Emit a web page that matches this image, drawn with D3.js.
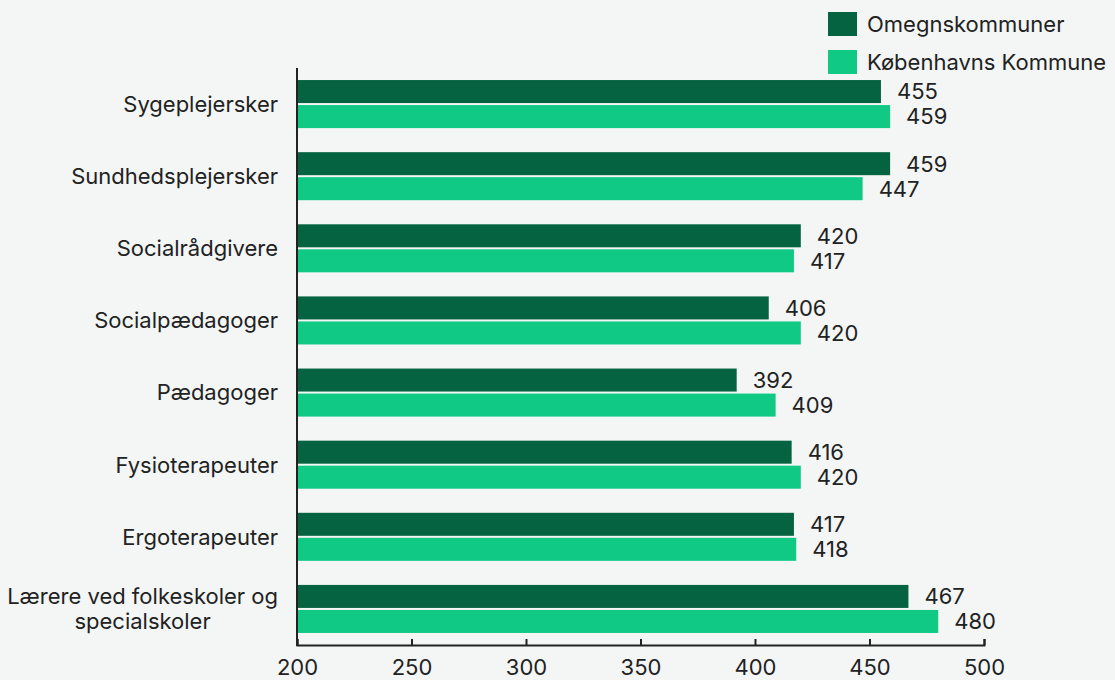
<!DOCTYPE html>
<html>
<head>
<meta charset="utf-8">
<script src="https://cdn.jsdelivr.net/npm/d3@7"></script>
<style>
	body { margin: 0; background: #f3f6f5; }
	svg { display: block; font-family: Inter, "Noto Sans", sans-serif; }
	.axis path, .axis line { stroke: #222; stroke-width: 2; }
</style>
</head>
<body>
<svg id="chart" width="1115" height="680"></svg>
<script>
var categories = [
	"Sygeplejersker",
	"Sundhedsplejersker",
	"Socialrådgivere",
	"Socialpædagoger",
	"Pædagoger",
	"Fysioterapeuter",
	"Ergoterapeuter",
	"Lærere ved folkeskoler og specialskoler"
];
var seriesNames = ["Omegnskommuner", "Københavns Kommune"];
var omegnValues = [455, 459, 420, 406, 392, 416, 417, 467];
var kbhValues = [459, 447, 417, 420, 409, 420, 418, 480];
var xTicks = [200, 250, 300, 350, 400, 450, 500];

var colors = ["#066342", "#10c985"];
var seriesValues = [omegnValues, kbhValues];
var fontSize = 22;

var svg = d3.select("#chart");
var margin = {left: 297, right: 131, top: 68, bottom: 35};
var width = 1115, height = 680;

var x = d3.scaleLinear()
	.domain([200, 500])
	.range([margin.left, width - margin.right]);

var y = d3.scaleBand()
	.domain(categories)
	.range([margin.top, height - margin.bottom])
	.paddingInner(0.334)
	.paddingOuter(0.167);

var sub = d3.scaleBand()
	.domain([0, 1])
	.range([0, y.bandwidth()])
	.paddingInner(0.08);

var groups = svg.append("g")
	.selectAll("g")
	.data(categories)
	.join("g")
	.attr("transform", function(d){ return "translate(0," + y(d) + ")"; });

function pairs(d, i){
	return seriesValues.map(function(vals, s){ return {s: s, v: vals[i]}; });
}

groups.selectAll("rect")
	.data(pairs)
	.join("rect")
	.attr("x", x(200))
	.attr("y", function(d){ return sub(d.s); })
	.attr("width", function(d){ return x(d.v) - x(200); })
	.attr("height", sub.bandwidth())
	.attr("fill", function(d){ return colors[d.s]; });

groups.selectAll("text.value")
	.data(pairs)
	.join("text")
	.attr("class", "value")
	.attr("x", function(d){ return x(d.v) + 16; })
	.attr("y", function(d){ return sub(d.s) + sub.bandwidth() / 2; })
	.attr("dy", "0.36em")
	.attr("font-size", fontSize)
	.attr("fill", "#222")
	.text(function(d){ return d.v; });

// category labels, wrapped and centred when they need two lines
var labels = svg.append("g")
	.selectAll("text")
	.data(categories)
	.join("text")
	.attr("font-size", fontSize)
	.attr("fill", "#222")
	.attr("text-anchor", "end")
	.attr("x", margin.left - 19)
	.attr("y", function(d){ return y(d) + y.bandwidth() / 2; })
	.attr("dy", "0.36em")
	.text(function(d){ return d; });

labels.each(function(d){
	var text = d3.select(this);
	var maxW = 280;
	if (this.getComputedTextLength() <= maxW) return;
	var words = d.split(" ");
	var lines = [], line = [];
	var probe = text.text(null).append("tspan");
	words.forEach(function(w){
		line.push(w);
		probe.text(line.join(" "));
		if (probe.node().getComputedTextLength() > maxW && line.length > 1) {
			line.pop();
			lines.push(line.join(" "));
			line = [w];
		}
	});
	lines.push(line.join(" "));
	probe.remove();
	var widest = 0;
	lines.forEach(function(l){
		var t = text.append("tspan").text(l);
		widest = Math.max(widest, t.node().getComputedTextLength());
		t.remove();
	});
	var cx = margin.left - 19 - widest / 2;
	var lineH = 25;
	var y0 = y(d) + y.bandwidth() / 2 - (lines.length - 1) * lineH / 2;
	text.attr("text-anchor", "middle").attr("dy", null);
	lines.forEach(function(l, i){
		text.append("tspan")
			.attr("x", cx)
			.attr("y", y0 + i * lineH)
			.attr("dy", "0.36em")
			.text(l);
	});
});

// axes
var xAxis = svg.append("g")
	.attr("class", "axis x")
	.attr("transform", "translate(0," + (height - margin.bottom) + ")")
	.call(d3.axisBottom(x)
		.tickValues(xTicks)
		.tickSizeInner(-6)
		.tickSizeOuter(-6)
		.tickPadding(14));
xAxis.attr("font-size", fontSize).attr("font-family", null);
xAxis.selectAll(".tick text")
	.attr("fill", "#222")
	.attr("y", 14)
	.attr("dy", "0.71em");

svg.append("line")
	.attr("x1", x(200)).attr("x2", x(200))
	.attr("y1", margin.top).attr("y2", height - margin.bottom + 1)
	.attr("stroke", "#222")
	.attr("stroke-width", 2);

// legend
var legend = svg.append("g")
	.selectAll("g")
	.data(seriesNames)
	.join("g")
	.attr("transform", function(d, i){ return "translate(828," + (12 + i * 38) + ")"; });

legend.append("rect")
	.attr("width", 29)
	.attr("height", 24)
	.attr("fill", function(d, i){ return colors[i]; });

legend.append("text")
	.attr("x", 39)
	.attr("y", 12)
	.attr("dy", "0.36em")
	.attr("font-size", fontSize)
	.attr("fill", "#222")
	.text(function(d){ return d; });
</script>
</body>
</html>
